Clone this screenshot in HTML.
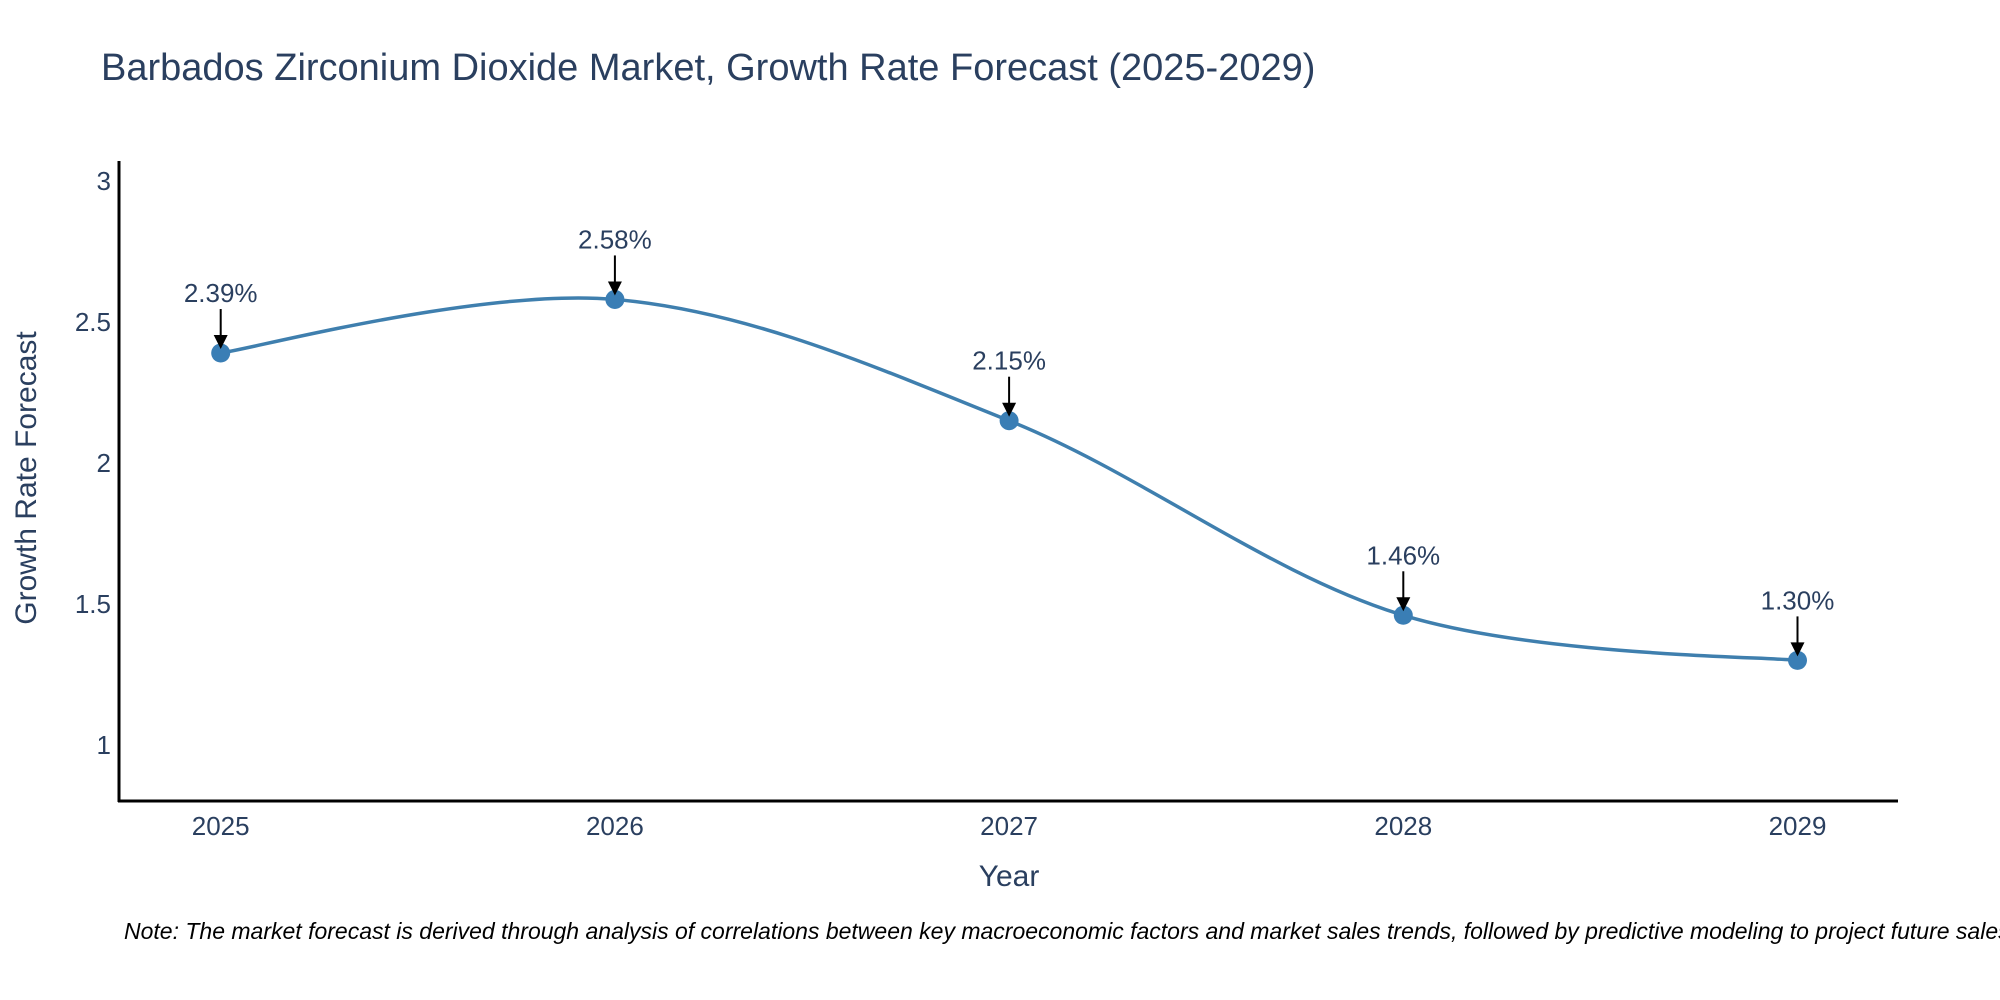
<!DOCTYPE html>
<html><head><meta charset="utf-8">
<style>
html,body{margin:0;padding:0;background:#fff;}
svg{display:block;font-family:"Liberation Sans",sans-serif;}
</style></head>
<body>
<svg id="chart" width="2000" height="1000" viewBox="0 0 2000 1000" xmlns="http://www.w3.org/2000/svg">
  <text x="101" y="80" font-size="38" fill="#2a3f5f">Barbados Zirconium Dioxide Market, Growth Rate Forecast (2025-2029)</text>
  <g id="yticks"></g>
  <g id="xticks"></g>
  <line x1="119" y1="161" x2="119" y2="802" stroke="#000" stroke-width="3"/>
  <line x1="118" y1="801" x2="1898" y2="801" stroke="#000" stroke-width="3"/>
  <text x="1009" y="886" font-size="30" fill="#2a3f5f" text-anchor="middle">Year</text>
  <text transform="translate(36,478) rotate(-90)" font-size="30" fill="#2a3f5f" text-anchor="middle">Growth Rate Forecast</text>
  <g id="series"></g>
  <g id="annots"></g>
  <text x="124" y="939" font-size="23" font-style="italic" fill="#000">Note: The market forecast is derived through analysis of correlations between key macroeconomic factors and market sales trends, followed by predictive modeling to project future sales.</text>
</svg>
<script>
const years = [2025, 2026, 2027, 2028, 2029];
const growth = [2.39, 2.58, 2.15, 1.46, 1.30];
const labels = ["2.39%", "2.58%", "2.15%", "1.46%", "1.30%"];
const yTicks = [1, 1.5, 2, 2.5, 3];
const yTickLabels = ["1", "1.5", "2", "2.5", "3"];

const NS = "http://www.w3.org/2000/svg";
function X(v){ return 220.7 + (v - 2025) * 394.2; }
function Y(v){ return 745 - (v - 1) * 282; }
function mk(tag, attrs, parent){
  const e = document.createElementNS(NS, tag);
  for (const k in attrs) e.setAttribute(k, attrs[k]);
  parent.appendChild(e); return e;
}
const yt = document.getElementById('yticks');
yTicks.forEach((t,i)=>{
  const e = mk('text',{x:111,y:Y(t)+9,'font-size':26,fill:'#2a3f5f','text-anchor':'end'},yt);
  
  
  e.textContent = yTickLabels[i];
});
const xt = document.getElementById('xticks');
years.forEach(y=>{
  const e = mk('text',{x:X(y),y:835,'font-size':26,fill:'#2a3f5f','text-anchor':'middle'},xt);
  
  
  e.textContent = String(y);
});
const pts = years.map((y,i)=>[X(y), Y(growth[i])]);
let d = `M${pts[0][0]},${pts[0][1]}`;
const s = 0.17;
for (let i=0;i<pts.length-1;i++){
  const p0 = pts[Math.max(0,i-1)], p1 = pts[i], p2 = pts[i+1], p3 = pts[Math.min(pts.length-1,i+2)];
  const f1 = i===0?0.5:1, f2 = (i+2>pts.length-1)?0.5:1;
  const c1 = [p1[0]+(p2[0]-p0[0])*s*f1, p1[1]+(p2[1]-p0[1])*s*f1];
  const c2 = [p2[0]-(p3[0]-p1[0])*s*f2, p2[1]-(p3[1]-p1[1])*s*f2];
  d += ` C${c1[0]},${c1[1]} ${c2[0]},${c2[1]} ${p2[0]},${p2[1]}`;
}
const ser = document.getElementById('series');
const line = mk('path',{d:d,fill:'none',stroke:'#3f7fae','stroke-width':3.5},ser);


pts.forEach(p=>{
  const c = mk('circle',{cx:p[0],cy:p[1],r:9.5,fill:'#3a7eb5'},ser);
  
  
});
const an = document.getElementById('annots');
pts.forEach((p,i)=>{
  const g = mk('g',{},an);
  
  
  mk('line',{x1:p[0],y1:p[1]-44,x2:p[0],y2:p[1]-14,stroke:'#000','stroke-width':2},g);
  mk('polygon',{points:`${p[0]-7},${p[1]-18} ${p[0]+7},${p[1]-18} ${p[0]},${p[1]-4}`,fill:'#000'},g);
  const t = mk('text',{x:p[0],y:p[1]-51,'font-size':26,fill:'#2a3f5f','text-anchor':'middle'},g);
  t.textContent = labels[i];
});
</script>
</body></html>
